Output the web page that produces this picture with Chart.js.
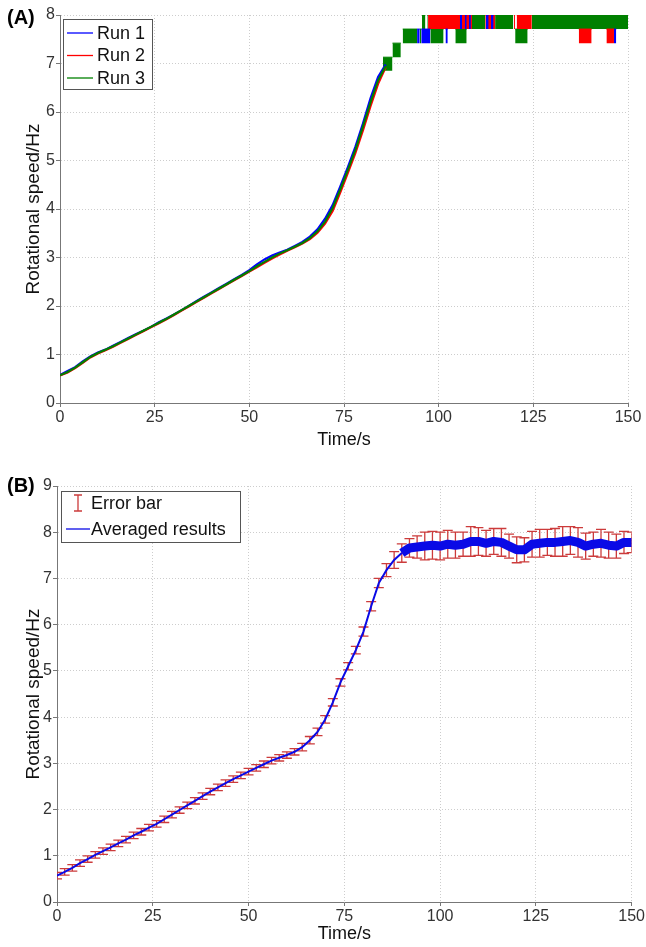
<!DOCTYPE html>
<html>
<head>
<meta charset="utf-8">
<script src="https://cdn.jsdelivr.net/npm/chart.js@4.4.0/dist/chart.umd.min.js"></script>
<style>
  body { margin: 0; background: #fff; width: 646px; height: 947px; overflow: hidden; position: relative; }
  .panel { position: absolute; left: 0; width: 646px; }
</style>
</head>
<body>
<div class="panel" style="top:0;height:462px"><canvas id="runs"></canvas></div>
<div class="panel" style="top:462px;height:485px"><canvas id="avg"></canvas></div>
<script>
// values
const runLabels = ['Run 1', 'Run 2', 'Run 3'];
const runColors = ['#0000ff', '#ff0000', '#008000'];

// rising part, one point every 2 s
const riseTime = [0,2,4,6,8,10,12,14,16,18,20,22,24,26,28,30,32,34,36,38,40,42,44,46,48,50,52,54,56,58,60,62,64,66,68,70,72,74,76,78,80,82,84,86];
const run1Speed = [0.58,0.66,0.74,0.86,0.96,1.04,1.10,1.18,1.26,1.34,1.42,1.49,1.57,1.66,1.74,1.82,1.91,2.00,2.10,2.19,2.28,2.37,2.46,2.55,2.64,2.74,2.86,2.96,3.04,3.10,3.16,3.24,3.32,3.43,3.58,3.80,4.08,4.46,4.86,5.28,5.76,6.28,6.72,6.98];
const run2Speed = [0.57,0.63,0.72,0.83,0.94,1.02,1.09,1.16,1.24,1.32,1.40,1.48,1.56,1.64,1.72,1.81,1.90,1.99,2.08,2.17,2.26,2.35,2.44,2.53,2.62,2.71,2.80,2.89,2.98,3.06,3.14,3.21,3.29,3.38,3.51,3.70,3.96,4.34,4.74,5.15,5.62,6.12,6.58,6.92];
const run3Speed = [0.57,0.64,0.73,0.84,0.95,1.03,1.10,1.17,1.25,1.33,1.41,1.49,1.57,1.65,1.73,1.82,1.91,2.00,2.09,2.18,2.27,2.36,2.45,2.54,2.63,2.72,2.82,2.91,3.00,3.08,3.15,3.22,3.30,3.40,3.54,3.74,4.02,4.40,4.80,5.22,5.70,6.20,6.65,6.95];

// top speed: signal flips between two levels -> solid blocks [t start, t end, low, high]
const run1Blocks = [[105.6,106.2,7.71,8.0],[106.9,107.4,7.71,8.0],[108.0,108.5,7.71,8.0],[112.5,113.2,7.71,8.0],[113.8,114.5,7.71,8.0],
                    [94.3,95.0,7.42,7.71],[95.4,97.8,7.42,7.71],[101.8,102.4,7.42,7.71],[146.3,146.9,7.42,7.71]];
const run2Blocks = [[97.2,108.8,7.71,8.0],[112.3,114.9,7.71,8.0],[119.9,120.2,7.71,8.0],[120.6,124.6,7.71,8.0],
                    [137.0,140.4,7.42,7.71],[144.3,146.3,7.42,7.71]];
const run3Blocks = [[95.6,96.5,7.71,8.0],[96.9,97.1,7.71,8.0],[108.8,112.3,7.71,8.0],[114.9,119.7,7.71,8.0],[124.6,150,7.71,8.0],
                    [90.5,94.3,7.42,7.71],[95.0,95.4,7.42,7.71],[97.8,101.3,7.42,7.71],[104.4,107.4,7.42,7.71],[120.2,123.5,7.42,7.71],
                    [87.8,90.0,7.13,7.42],[85.3,87.8,6.85,7.13]];

// averaged results with error, every 2 s
const avgTime = [0,2,4,6,8,10,12,14,16,18,20,22,24,26,28,30,32,34,36,38,40,42,44,46,48,50,52,54,56,58,60,62,64,66,68,70,72,74,76,78,80,82,84,86,88,90,
                 92,94,96,98,100,102,104,106,108,110,112,114,116,118,120,122,124,126,128,130,132,134,136,138,140,142,144,146,148,150];
const avgSpeed = [0.57,0.65,0.74,0.84,0.93,1.02,1.10,1.18,1.27,1.35,1.44,1.52,1.61,1.69,1.79,1.89,1.99,2.09,2.19,2.29,2.39,2.48,2.57,2.66,2.74,2.82,2.90,2.98,3.06,3.12,3.18,3.25,3.35,3.50,3.68,3.95,4.32,4.75,5.10,5.45,5.85,6.40,6.90,7.18,7.40,7.55,
                  7.66,7.68,7.70,7.72,7.70,7.74,7.72,7.74,7.80,7.80,7.76,7.80,7.78,7.70,7.62,7.62,7.74,7.76,7.78,7.78,7.80,7.82,7.78,7.70,7.74,7.76,7.72,7.70,7.78,7.78];
const avgError = [0.07,0.07,0.07,0.07,0.07,0.07,0.07,0.07,0.07,0.07,0.07,0.07,0.07,0.07,0.07,0.07,0.07,0.07,0.07,0.07,0.07,0.07,0.07,0.07,0.07,0.07,0.07,0.07,0.07,0.07,0.07,0.07,
                  0.08,0.08,0.08,0.08,0.08,0.08,0.08,0.08,0.10,0.10,0.10,0.14,0.18,0.20,
                  0.20,0.24,0.30,0.30,0.30,0.30,0.28,0.26,0.32,0.30,0.28,0.28,0.30,0.26,0.28,0.26,0.28,0.30,0.28,0.30,0.32,0.30,0.32,0.28,0.26,0.30,0.28,0.26,0.24,0.22];
const plateauStart = 90;

const FONT = "'Liberation Sans', Arial, Helvetica, sans-serif";
const errColor = '#cc3b3b';
const avgColor = '#0a0ae6';

// axis setup shared by both panels
function axes(yMax, yWidth, xHeight, xTitlePad) {
  return {
    x: {
      type: 'linear', min: 0, max: 150,
      afterFit: s => { s.height = xHeight; },
      afterBuildTicks: s => { s.ticks = [0,25,50,75,100,125,150].map(v => ({value: v})); },
      ticks: { color: '#333', font: {family: FONT, size: 16}, padding: 1, maxRotation: 0 },
      grid: { color: '#cdcdcd', tickColor: '#777', tickLength: 4 },
      border: { display: true, color: '#777', width: 1, dash: [1, 2] },
      title: { display: true, text: 'Time/s', color: '#111', font: {family: FONT, size: 18}, padding: {top: 0, bottom: xTitlePad} }
    },
    y: {
      type: 'linear', min: 0, max: yMax,
      afterFit: s => { s.width = yWidth; },
      ticks: { stepSize: 1, color: '#333', font: {family: FONT, size: 16}, padding: 1 },
      grid: { color: '#cdcdcd', tickColor: '#777', tickLength: 4 },
      border: { display: true, color: '#777', width: 1, dash: [1, 2] },
      title: { display: true, text: 'Rotational speed/Hz', color: '#111', font: {family: FONT, size: 19}, padding: {top: 22, bottom: 0} }
    }
  };
}

// framed legend inside the axes + panel letter
const boxLegend = {
  id: 'boxLegend',
  afterDraw(chart, args, o) {
    const ctx = chart.ctx;
    ctx.save();
    ctx.font = 'bold 20px ' + FONT;
    ctx.fillStyle = '#000';
    ctx.textBaseline = 'middle';
    ctx.fillText(o.panel, 7, o.panelY);

    ctx.fillStyle = '#fff';
    ctx.fillRect(o.x, o.y, o.w, o.h);
    ctx.strokeStyle = '#555';
    ctx.lineWidth = 1;
    ctx.strokeRect(o.x + 0.5, o.y + 0.5, o.w, o.h);
    ctx.font = '18px ' + FONT;
    o.rows.forEach((r, i) => {
      const cy = o.firstY + i * o.gap;
      ctx.strokeStyle = r.color;
      ctx.lineWidth = 1.3;
      ctx.beginPath();
      if (r.kind === 'err') {
        const cx = (o.sx0 + o.sx1) / 2;
        ctx.moveTo(cx, cy - 8); ctx.lineTo(cx, cy + 8);
        ctx.moveTo(cx - 4, cy - 8); ctx.lineTo(cx + 4, cy - 8);
        ctx.moveTo(cx - 4, cy + 8); ctx.lineTo(cx + 4, cy + 8);
      } else {
        ctx.moveTo(o.sx0, cy); ctx.lineTo(o.sx1, cy);
      }
      ctx.stroke();
      ctx.fillStyle = '#111';
      ctx.fillText(r.label, o.textX, cy + 1);
    });
    ctx.restore();
  }
};

// I-shaped error bars under the averaged curve
const errorBars = {
  id: 'errorBars',
  beforeDatasetsDraw(chart, args, o) {
    if (!o.on) return;
    const {ctx, chartArea, scales: {x, y}} = chart;
    ctx.save();
    ctx.beginPath();
    ctx.rect(chartArea.left, chartArea.top, chartArea.width, chartArea.height);
    ctx.clip();
    ctx.strokeStyle = errColor;
    ctx.lineWidth = 1.3;
    ctx.beginPath();
    avgTime.forEach((t, i) => {
      const px = x.getPixelForValue(t);
      const lo = y.getPixelForValue(avgSpeed[i] - avgError[i]);
      const hi = y.getPixelForValue(avgSpeed[i] + avgError[i]);
      ctx.moveTo(px, lo); ctx.lineTo(px, hi);
      ctx.moveTo(px - o.cap, lo); ctx.lineTo(px + o.cap, lo);
      ctx.moveTo(px - o.cap, hi); ctx.lineTo(px + o.cap, hi);
    });
    ctx.stroke();
    ctx.restore();
  }
};

Chart.register(boxLegend, errorBars);

// panel A
const lineSets = [run1Speed, run2Speed, run3Speed].map((vals, k) => ({
  label: runLabels[k],
  data: riseTime.map((t, i) => ({x: t, y: vals[i]})),
  borderColor: runColors[k],
  borderWidth: 2.2,
  pointRadius: 0,
  fill: false,
  order: 2 - k
}));
const blockSets = [];
[run1Blocks, run2Blocks, run3Blocks].forEach((blocks, k) => {
  blocks.forEach(b => blockSets.push({
    label: runLabels[k],
    data: [{x: b[0], y: b[3]}, {x: b[1], y: b[3]}],
    borderColor: runColors[k],
    backgroundColor: runColors[k],
    borderWidth: 1,
    pointRadius: 0,
    fill: {value: b[2]},
    order: 3 + k
  }));
});

new Chart(document.getElementById('runs'), {
  type: 'line',
  data: { datasets: lineSets.concat(blockSets) },
  options: {
    responsive: true, maintainAspectRatio: false, animation: false,
    layout: { padding: {top: 15, right: 18, bottom: 0, left: 0} },
    scales: axes(8, 60, 59, 11),
    plugins: {
      legend: { display: false },
      tooltip: { enabled: false },
      errorBars: { on: false },
      boxLegend: {
        panel: '(A)', panelY: 18,
        x: 63, y: 19, w: 89, h: 70, firstY: 33, gap: 22.5, sx0: 67, sx1: 93, textX: 97,
        rows: runLabels.map((l, k) => ({label: l, color: runColors[k], kind: 'line'}))
      }
    }
  }
});

// panel B
const avgPoints = avgTime.map((t, i) => ({x: t, y: avgSpeed[i]}));
new Chart(document.getElementById('avg'), {
  type: 'line',
  data: {
    datasets: [
      { label: 'Averaged results', data: avgPoints.filter(p => p.x <= plateauStart),
        borderColor: avgColor, borderWidth: 2, pointRadius: 0, fill: false },
      { label: 'Averaged results', data: avgPoints.filter(p => p.x >= plateauStart),
        borderColor: avgColor, borderWidth: 9, pointRadius: 0, fill: false, borderJoinStyle: 'round' }
    ]
  },
  options: {
    responsive: true, maintainAspectRatio: false, animation: false,
    layout: { padding: {top: 24, right: 13, bottom: 0, left: 0} },
    scales: axes(9, 57, 45, 2),
    plugins: {
      legend: { display: false },
      tooltip: { enabled: false },
      errorBars: { on: true, cap: 5 },
      boxLegend: {
        panel: '(B)', panelY: 24,
        x: 61, y: 29, w: 179, h: 51, firstY: 41, gap: 26, sx0: 66, sx1: 90, textX: 91,
        rows: [
          {label: 'Error bar', color: errColor, kind: 'err'},
          {label: 'Averaged results', color: avgColor, kind: 'line'}
        ]
      }
    }
  }
});
</script>
</body>
</html>
